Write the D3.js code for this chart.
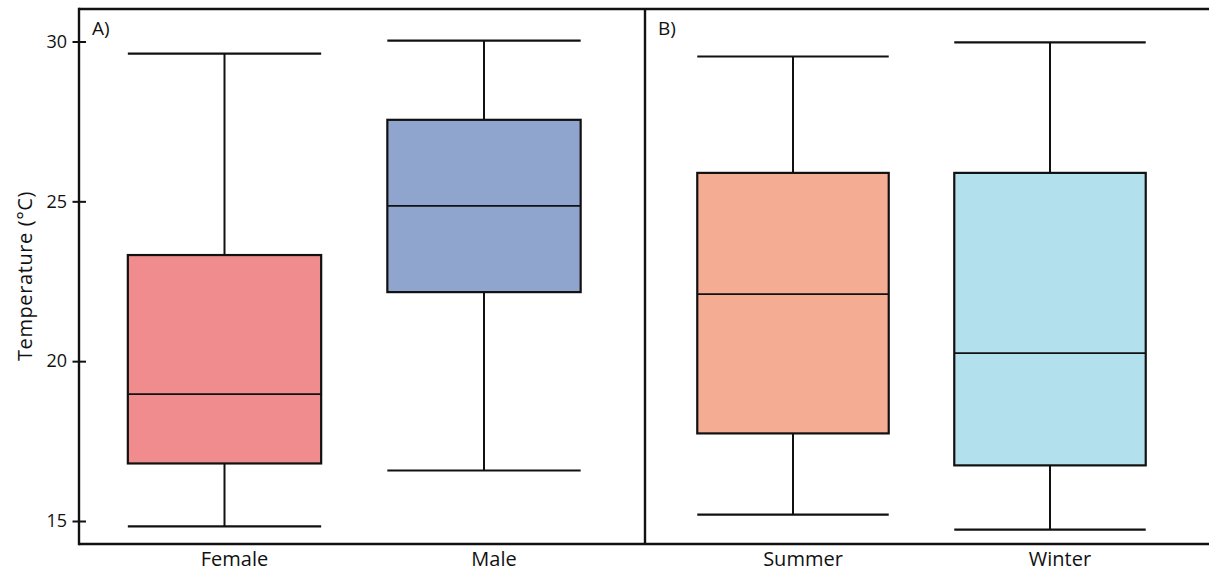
<!DOCTYPE html>
<html>
<head>
<meta charset="utf-8">
<script src="https://cdn.jsdelivr.net/npm/d3@7"></script>
<style>
  html, body { margin: 0; padding: 0; background: #fff; }
  svg { display: block; font-family: "Open Sans", "Noto Sans", sans-serif; }
</style>
</head>
<body>
<svg id="chart" width="1209" height="573"></svg>
<script>
// Panel A: temperature by sex
const sexGroups = ["Female", "Male"];
const sexWhiskerHigh = [29.62, 30.03];
const sexQ3 = [23.32, 27.55];
const sexMedian = [18.97, 24.86];
const sexQ1 = [16.80, 22.16];
const sexWhiskerLow = [14.83, 16.58];
const sexColors = ["#f08c8e", "#90a5ce"];

// Panel B: temperature by season
const seasonGroups = ["Summer", "Winter"];
const seasonWhiskerHigh = [29.53, 29.97];
const seasonQ3 = [25.89, 25.89];
const seasonMedian = [22.10, 20.25];
const seasonQ1 = [17.74, 16.74];
const seasonWhiskerLow = [15.20, 14.73];
const seasonColors = ["#f4ad93", "#b3e0ed"];

const yTicks = [15, 20, 25, 30];
const panelLabels = ["A)", "B)"];

const svg = d3.select("#chart");
const frame = { left: 79, right: 1209, top: 9, bottom: 544, divider: 645 };

const y = d3.scaleLinear().domain([15, 30]).range([521, 41.5]);

const panels = [
  {
    label: panelLabels[0], left: frame.left,
    x: d3.scaleBand().domain(sexGroups).range([94.75, 613.75]),
    rows: sexGroups.map((g, i) => ({
      g, hi: sexWhiskerHigh[i], q3: sexQ3[i], med: sexMedian[i],
      q1: sexQ1[i], lo: sexWhiskerLow[i], color: sexColors[i]
    }))
  },
  {
    label: panelLabels[1], left: frame.divider,
    x: d3.scaleBand().domain(seasonGroups).range([664.5, 1178.5]),
    rows: seasonGroups.map((g, i) => ({
      g, hi: seasonWhiskerHigh[i], q3: seasonQ3[i], med: seasonMedian[i],
      q1: seasonQ1[i], lo: seasonWhiskerLow[i], color: seasonColors[i]
    }))
  }
];

const boxFrac = 0.745;
const stroke = "#111";

panels.forEach(p => {
  const g = svg.append("g");
  const w = p.x.bandwidth() * boxFrac;
  const cx = d => p.x(d.g) + p.x.bandwidth() / 2;

  const box = g.selectAll("g.box").data(p.rows).join("g").attr("class", "box");

  // whisker stems
  box.append("line")
    .attr("x1", cx).attr("x2", cx)
    .attr("y1", d => y(d.hi)).attr("y2", d => y(d.q3))
    .attr("stroke", stroke).attr("stroke-width", 2);
  box.append("line")
    .attr("x1", cx).attr("x2", cx)
    .attr("y1", d => y(d.q1)).attr("y2", d => y(d.lo))
    .attr("stroke", stroke).attr("stroke-width", 2);

  // whisker caps
  box.append("line")
    .attr("x1", d => cx(d) - w / 2).attr("x2", d => cx(d) + w / 2)
    .attr("y1", d => y(d.hi)).attr("y2", d => y(d.hi))
    .attr("stroke", stroke).attr("stroke-width", 2.2);
  box.append("line")
    .attr("x1", d => cx(d) - w / 2).attr("x2", d => cx(d) + w / 2)
    .attr("y1", d => y(d.lo)).attr("y2", d => y(d.lo))
    .attr("stroke", stroke).attr("stroke-width", 2.2);

  // interquartile box
  box.append("rect")
    .attr("x", d => cx(d) - w / 2).attr("width", w)
    .attr("y", d => y(d.q3)).attr("height", d => y(d.q1) - y(d.q3))
    .attr("fill", d => d.color)
    .attr("stroke", stroke).attr("stroke-width", 2.2);

  // median
  box.append("line")
    .attr("x1", d => cx(d) - w / 2).attr("x2", d => cx(d) + w / 2)
    .attr("y1", d => y(d.med)).attr("y2", d => y(d.med))
    .attr("stroke", stroke).attr("stroke-width", 1.8);

  // category labels
  g.selectAll("text.cat").data(p.rows).join("text")
    .attr("class", "cat")
    .attr("x", d => cx(d) + 10)
    .attr("y", 566)
    .attr("text-anchor", "middle")
    .attr("font-size", 20)
    .attr("fill", "#111")
    .text(d => d.g);

  // panel letter
  g.append("text")
    .attr("x", p.left + 13).attr("y", 35)
    .attr("font-size", 19).attr("fill", "#111")
    .text(p.label);
});

// frame: top, bottom, left and panel divider
const fr = svg.append("g").attr("stroke", stroke).attr("stroke-width", 2.4).attr("fill", "none");
fr.append("line").attr("x1", frame.left).attr("x2", frame.right).attr("y1", frame.top).attr("y2", frame.top);
fr.append("line").attr("x1", frame.left).attr("x2", frame.right).attr("y1", frame.bottom).attr("y2", frame.bottom);
fr.append("line").attr("x1", frame.left).attr("x2", frame.left).attr("y1", frame.top - 1.2).attr("y2", frame.bottom + 1.2);
fr.append("line").attr("x1", frame.divider).attr("x2", frame.divider).attr("y1", frame.top).attr("y2", frame.bottom);

// y axis with ticks crossing the frame
const yAxis = d3.axisLeft(y).tickValues(yTicks).tickSize(0).tickPadding(12);
const ya = svg.append("g").attr("transform", `translate(${frame.left},0)`).call(yAxis);
ya.select(".domain").remove();
ya.selectAll(".tick line").remove();
ya.selectAll(".tick").append("line")
  .attr("x1", -6.5).attr("x2", 7).attr("stroke", stroke).attr("stroke-width", 2);
ya.selectAll(".tick text")
  .attr("font-size", 18).attr("fill", "#111")
  .attr("font-family", "\"Open Sans\", \"Noto Sans\", sans-serif");

// y axis title
svg.append("text")
  .attr("transform", "translate(32, 276) rotate(-90)")
  .attr("text-anchor", "middle")
  .attr("font-size", 20).attr("letter-spacing", 0.6).attr("fill", "#111")
  .text("Temperature (°C)");
</script>
</body>
</html>
